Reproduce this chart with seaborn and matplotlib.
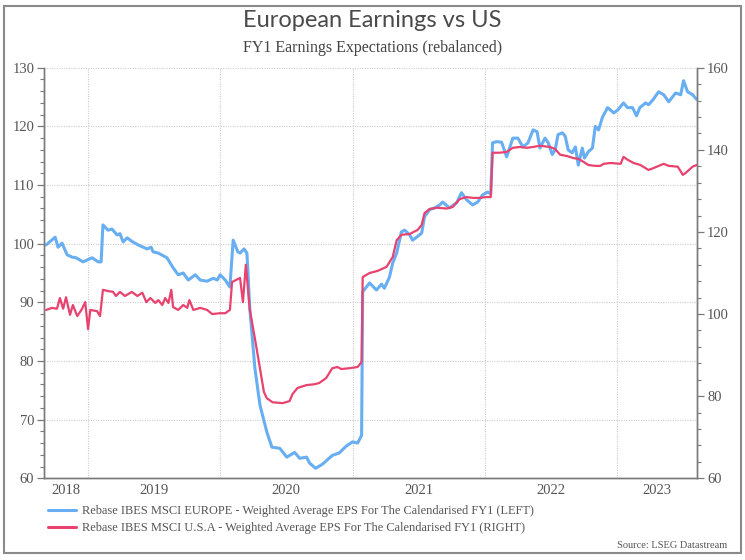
"""
European vs US FY1 earnings expectations, rebased
"""

import matplotlib
matplotlib.use("Agg")
import matplotlib.pyplot as plt
import matplotlib.dates as mdates
from matplotlib.lines import Line2D
from matplotlib.patches import Rectangle
import matplotlib.ticker as mticker
import seaborn as sns
import pandas as pd

# Rebased IBES MSCI Europe EPS (left axis)
eur_dates = [
    "2018-09-07", "2018-10-02", "2018-10-10", "2018-10-21", "2018-11-04", "2018-11-18",
    "2018-11-29", "2018-12-18", "2019-01-12", "2019-01-29", "2019-02-06", "2019-02-11",
    "2019-02-25", "2019-03-08", "2019-03-22", "2019-03-30", "2019-04-08", "2019-04-19",
    "2019-05-02", "2019-05-19", "2019-06-13", "2019-06-24", "2019-06-30", "2019-07-14",
    "2019-08-07", "2019-08-24", "2019-09-07", "2019-09-21", "2019-10-05", "2019-10-24",
    "2019-11-07", "2019-11-26", "2019-12-13", "2019-12-24", "2020-01-01", "2020-01-15",
    "2020-01-28", "2020-02-06", "2020-02-19", "2020-02-25", "2020-03-07", "2020-03-15",
    "2020-03-23", "2020-04-06", "2020-04-20", "2020-05-09", "2020-05-23", "2020-06-14",
    "2020-07-03", "2020-07-25", "2020-08-08", "2020-08-27", "2020-09-04", "2020-09-21",
    "2020-10-10", "2020-11-06", "2020-11-25", "2020-12-15", "2021-01-01", "2021-01-15",
    "2021-01-26", "2021-01-29", "2021-02-17", "2021-03-08", "2021-03-22", "2021-03-30",
    "2021-04-13", "2021-04-22", "2021-05-03", "2021-05-16", "2021-05-25", "2021-06-08",
    "2021-06-16", "2021-06-27", "2021-07-11", "2021-07-19", "2021-08-02", "2021-08-16",
    "2021-08-30", "2021-09-07", "2021-09-26", "2021-10-16", "2021-10-29", "2021-11-12",
    "2021-11-29", "2021-12-13", "2021-12-26", "2022-01-09", "2022-01-18", "2022-01-23",
    "2022-02-03", "2022-02-17", "2022-03-03", "2022-03-20", "2022-04-03", "2022-04-17",
    "2022-05-01", "2022-05-15", "2022-05-26", "2022-06-03", "2022-06-17", "2022-06-26",
    "2022-07-07", "2022-07-15", "2022-07-23", "2022-08-04", "2022-08-12", "2022-08-20",
    "2022-08-31", "2022-09-09", "2022-09-17", "2022-09-28", "2022-10-04", "2022-10-15",
    "2022-10-26", "2022-11-03", "2022-11-12", "2022-11-23", "2022-12-07", "2022-12-15",
    "2022-12-24", "2023-01-04", "2023-01-20", "2023-01-31", "2023-02-14", "2023-02-25",
    "2023-03-06", "2023-03-22", "2023-03-30", "2023-04-11", "2023-04-27", "2023-05-11",
    "2023-05-25", "2023-06-13", "2023-06-27", "2023-07-05", "2023-07-16", "2023-07-30",
    "2023-08-10",
]
eur_values = [
    99.8, 101.1, 99.4, 100.1, 98.1, 97.7,
    97.6, 96.9, 97.6, 96.9, 96.9, 103.2,
    102.3, 102.5, 101.5, 101.7, 100.3, 101.0,
    100.4, 99.8, 99.1, 99.4, 98.6, 98.4,
    97.6, 95.9, 94.7, 95.0, 93.8, 94.7,
    93.8, 93.6, 94.1, 93.8, 94.7, 93.8,
    92.6, 100.6, 98.6, 98.4, 99.1, 98.4,
    89.0, 78.8, 72.5, 67.9, 65.3, 65.1,
    63.6, 64.4, 63.4, 63.6, 62.6, 61.7,
    62.4, 63.9, 64.3, 65.5, 66.2, 66.0,
    67.3, 91.8, 93.3, 92.1, 93.1, 92.4,
    94.3, 96.7, 98.4, 102.0, 102.3, 101.5,
    100.6, 101.1, 101.8, 104.6, 105.8, 106.1,
    106.6, 107.1, 106.1, 107.0, 108.7, 107.5,
    106.6, 107.1, 108.3, 108.8, 108.5, 117.2,
    117.4, 117.3, 114.8, 118.0, 118.0, 116.5,
    117.2, 119.4, 119.1, 116.3, 118.0, 117.2,
    115.2, 116.0, 118.6, 118.9, 118.3, 116.0,
    115.5, 116.5, 113.4, 116.3, 114.6, 115.7,
    116.3, 120.0, 119.4, 121.6, 123.2, 122.8,
    122.3, 122.8, 124.0, 123.2, 123.2, 121.8,
    123.2, 124.0, 123.7, 124.5, 125.9, 125.4,
    124.2, 125.7, 125.4, 127.8, 125.9, 125.4,
    124.6,
]

# Rebased IBES MSCI USA EPS (right axis)
usa_dates = [
    "2018-09-07", "2018-09-23", "2018-10-07", "2018-10-15", "2018-10-24", "2018-11-01",
    "2018-11-12", "2018-11-20", "2018-12-02", "2018-12-15", "2018-12-24", "2019-01-01",
    "2019-01-07", "2019-01-26", "2019-02-03", "2019-02-11", "2019-02-25", "2019-03-11",
    "2019-03-19", "2019-03-30", "2019-04-13", "2019-05-02", "2019-05-17", "2019-05-31",
    "2019-06-11", "2019-06-22", "2019-07-06", "2019-07-14", "2019-07-25", "2019-08-02",
    "2019-08-11", "2019-08-19", "2019-08-24", "2019-09-07", "2019-09-21", "2019-10-02",
    "2019-10-08", "2019-10-19", "2019-11-07", "2019-11-26", "2019-12-10", "2020-01-01",
    "2020-01-15", "2020-01-28", "2020-02-03", "2020-02-25", "2020-03-04", "2020-03-12",
    "2020-03-23", "2020-04-06", "2020-04-20", "2020-05-01", "2020-05-09", "2020-05-25",
    "2020-06-22", "2020-07-11", "2020-07-19", "2020-08-02", "2020-08-27", "2020-09-18",
    "2020-10-01", "2020-10-20", "2020-11-06", "2020-11-20", "2020-12-01", "2020-12-23",
    "2021-01-15", "2021-01-26", "2021-01-29", "2021-02-17", "2021-03-11", "2021-04-05",
    "2021-04-22", "2021-05-03", "2021-05-16", "2021-06-08", "2021-06-30", "2021-07-11",
    "2021-07-19", "2021-08-02", "2021-08-22", "2021-09-18", "2021-10-05", "2021-10-24",
    "2021-11-12", "2021-11-29", "2021-12-18", "2022-01-06", "2022-01-18", "2022-01-23",
    "2022-02-11", "2022-03-03", "2022-03-20", "2022-04-08", "2022-04-28", "2022-05-15",
    "2022-06-03", "2022-07-01", "2022-07-15", "2022-07-29", "2022-08-17", "2022-09-03",
    "2022-09-17", "2022-10-01", "2022-10-15", "2022-11-03", "2022-11-17", "2022-11-26",
    "2022-12-15", "2023-01-12", "2023-01-20", "2023-01-31", "2023-02-17", "2023-03-08",
    "2023-03-30", "2023-04-14", "2023-05-11", "2023-05-25", "2023-06-19", "2023-07-03",
    "2023-07-11", "2023-07-30", "2023-08-10",
]
usa_values = [
    101.0, 101.5, 101.3, 103.9, 101.3, 104.1,
    99.8, 102.2, 99.5, 101.2, 102.9, 96.3,
    101.0, 100.7, 99.5, 105.9, 105.6, 105.4,
    104.4, 105.4, 104.4, 105.4, 104.4, 105.2,
    102.9, 103.9, 102.7, 103.4, 102.2, 103.9,
    102.7, 105.9, 101.7, 101.0, 102.2, 101.5,
    103.4, 101.0, 101.5, 101.0, 100.0, 100.2,
    100.2, 101.0, 107.8, 108.8, 102.9, 112.0,
    101.0, 94.1, 86.8, 81.0, 79.5, 78.5,
    78.3, 78.8, 80.5, 82.0, 82.7, 82.9,
    83.2, 84.4, 86.8, 87.1, 86.6, 86.8,
    87.1, 88.3, 109.0, 110.0, 110.5, 111.5,
    113.9, 118.0, 119.3, 119.5, 120.5, 121.7,
    124.6, 125.6, 125.9, 125.7, 126.1, 128.0,
    128.5, 128.3, 128.3, 128.5, 128.5, 139.3,
    139.3, 139.5, 140.5, 140.7, 140.5, 140.7,
    141.0, 140.7, 140.2, 138.8, 138.5, 138.0,
    137.8, 137.1, 136.3, 136.1, 136.1, 136.6,
    136.8, 136.6, 138.3, 137.6, 136.8, 136.3,
    135.1, 135.6, 136.6, 136.1, 135.9, 133.9,
    134.4, 135.9, 136.3,
]

years = [2018, 2019, 2020, 2021, 2022, 2023]
x_start, x_end = "2018-09-01", "2023-08-12"

eur_label = "Rebase IBES MSCI EUROPE - Weighted Average EPS For The Calendarised FY1 (LEFT)"
usa_label = "Rebase IBES MSCI U.S.A - Weighted Average EPS For The Calendarised FY1 (RIGHT)"

EUR_COLOR = "#68aef2"
USA_COLOR = "#e8426f"
AXIS_COLOR = "#7a7a7a"
TEXT_COLOR = "#555555"
SERIF = ["Liberation Serif", "DejaVu Serif"]

sns.set_style("white")
plt.rcParams["font.family"] = SERIF

df_eur = pd.DataFrame({"date": pd.to_datetime(eur_dates), "value": eur_values})
df_usa = pd.DataFrame({"date": pd.to_datetime(usa_dates), "value": usa_values})

fig = plt.figure(figsize=(7.45, 5.6), dpi=100)
ax = fig.add_axes([0.059, 0.146, 0.877, 0.733])
ax2 = ax.twinx()

sns.lineplot(data=df_eur, x="date", y="value", ax=ax, color=EUR_COLOR, lw=2.2)
sns.lineplot(data=df_usa, x="date", y="value", ax=ax2, color=USA_COLOR, lw=1.6)

xmin, xmax = pd.Timestamp(x_start), pd.Timestamp(x_end)
ax.set_xlim(xmin, xmax)
ax.set_ylim(60, 130)
ax2.set_ylim(60, 160)

ax.set_xlabel("")
ax.set_ylabel("")
ax2.set_ylabel("")

# y ticks
ax.yaxis.set_major_locator(mticker.MultipleLocator(10))
ax.yaxis.set_minor_locator(mticker.MultipleLocator(2))
ax2.yaxis.set_major_locator(mticker.MultipleLocator(20))
ax2.yaxis.set_minor_locator(mticker.MultipleLocator(4))

# x ticks: year boundaries (no labels), quarterly minor ticks
ax.xaxis.set_major_locator(mdates.YearLocator())
ax.xaxis.set_major_formatter(mticker.NullFormatter())
ax.xaxis.set_minor_locator(mdates.MonthLocator(bymonth=[4, 7, 10]))

for a in (ax, ax2):
    a.tick_params(which="major", length=5, width=0.9, color=AXIS_COLOR,
                  labelsize=10.5, labelcolor=TEXT_COLOR)
    a.tick_params(which="minor", length=3, width=0.8, color=AXIS_COLOR)
    for side in ("left", "right", "bottom"):
        a.spines[side].set_color(AXIS_COLOR)
        a.spines[side].set_linewidth(1.0)
    a.spines["top"].set_visible(False)
ax.tick_params(axis="y", pad=2)
ax2.tick_params(axis="y", pad=2)

ax.grid(True, which="major", axis="both", color="#cccccc", linestyle=(0, (1, 1.2)), lw=0.8)
ax2.grid(False)

# year labels centred in the visible part of each year
for yr in years:
    s = max(pd.Timestamp(f"{yr}-01-01"), xmin)
    e = min(pd.Timestamp(f"{yr + 1}-01-01"), xmax)
    mid = s + (e - s) / 2
    ax.text(mid, -0.015, str(yr), transform=ax.get_xaxis_transform(),
            ha="center", va="top", fontsize=10.5, color=TEXT_COLOR)

# titles
fig.text(0.5, 0.963, "European Earnings vs US", ha="center", va="center",
         fontsize=17, color="#4a4a4a", family=["Lato", "DejaVu Sans"])
fig.text(0.5, 0.915, "FY1 Earnings Expectations (rebalanced)", ha="center", va="center",
         fontsize=11.5, color="#444444")

handles = [Line2D([], [], color=EUR_COLOR, lw=2.2), Line2D([], [], color=USA_COLOR, lw=2.2)]
fig.legend(handles, [eur_label, usa_label], loc="upper left",
           bbox_to_anchor=(0.064, 0.098), frameon=False, fontsize=8.9,
           handlelength=2.3, handletextpad=0.5, labelspacing=0.42,
           borderaxespad=0, borderpad=0, labelcolor=TEXT_COLOR)

fig.text(0.976, 0.025, "Source: LSEG Datastream", ha="right", va="center",
         fontsize=7.5, color=TEXT_COLOR)

# outer frame
fig.patches.append(Rectangle((0.006, 0.012), 0.988, 0.978, transform=fig.transFigure,
                             fill=False, edgecolor="#8a8a8a", lw=1.5))

fig.savefig("out.png", dpi=100)
